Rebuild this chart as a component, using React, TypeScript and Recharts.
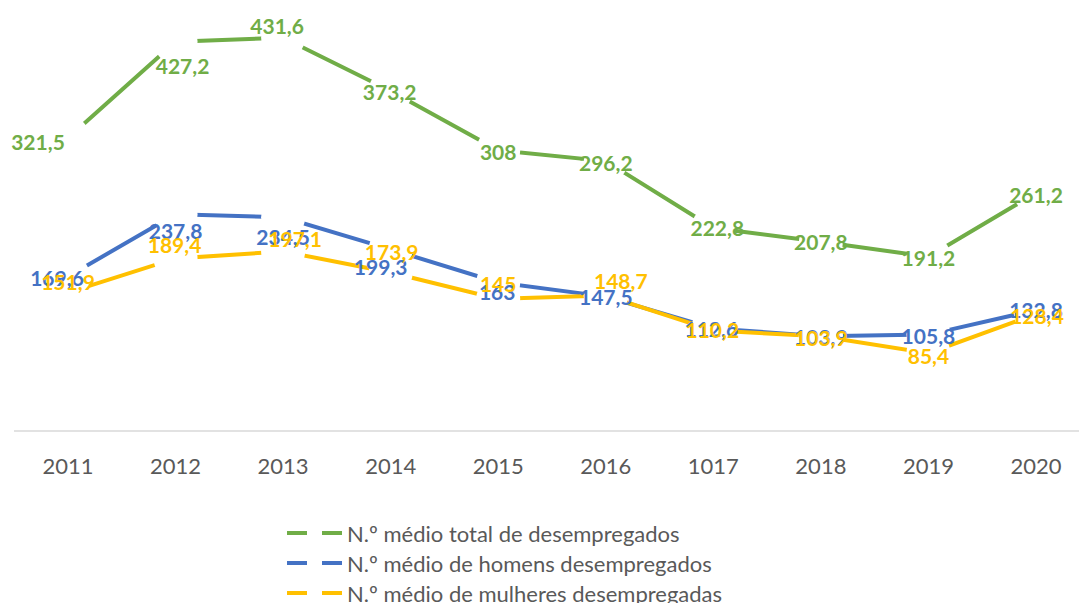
import { LineChart, Line, XAxis, YAxis, Legend, LabelList } from "recharts";

const years = ["2011", "2012", "2013", "2014", "2015", "2016", "1017", "2018", "2019", "2020"];
const totalUnemployed = [321.5, 427.2, 431.6, 373.2, 308, 296.2, 222.8, 207.8, 191.2, 261.2];
const menUnemployed = [169.6, 237.8, 234.5, 199.3, 163, 147.5, 112.6, 103.9, 105.8, 132.8];
const womenUnemployed = [151.9, 189.4, 197.1, 173.9, 145, 148.7, 110.2, 103.9, 85.4, 128.4];

const seriesNames = [
  "N.º médio total de desempregados",
  "N.º médio de homens desempregados",
  "N.º médio de mulheres desempregadas",
];

const GREEN = "#70AD47";
const BLUE = "#4472C4";
const YELLOW = "#FFC000";
const seriesColors = [GREEN, BLUE, YELLOW];
const FONT = "Lato, 'Open Sans', sans-serif";

// manual nudges of the data labels, like the hand-placed labels in the original
const totalShift = [[-30, 4], [7, 25], [-6, -11], [-1, 2], [0, 2], [0, 2], [4, 1], [0, 1], [0, 2], [0, 3]];
const menShift = [[-11, 2], [0, 17], [0, 20], [-10, 18], [-1, 10], [0, 1], [-2, 1], [0, 1], [0, 2], [0, 1]];
const womenShift = [[0, -10], [-1, -13], [12, -12], [1, -20], [0, -14], [15, -14], [-1, 0], [0, 2], [0, 3], [1, 3]];

const data = years.map((year, i) => ({
  year,
  total: totalUnemployed[i],
  men: menUnemployed[i],
  women: womenUnemployed[i],
}));

const fmt = (v: number) => String(v).replace(".", ",");

function labelFor(color: string, shifts: number[][]) {
  return (props: any) => {
    const { x, y, value, index } = props;
    if (x == null || y == null) return null;
    const [dx, dy] = shifts[index] || [0, 0];
    return (
      <text
        x={Number(x) + dx}
        y={Number(y) + dy + 7.5}
        textAnchor="middle"
        fill={color}
        fontFamily={FONT}
        fontWeight={700}
        fontSize={21}
      >
        {fmt(Number(value))}
      </text>
    );
  };
}

// legend rows in series order (the label-only helper lines stay out of it)
function LegendBox() {
  return (
    <div>
      {seriesNames.map((name, i) => (
        <div key={name} style={{ display: "flex", alignItems: "center", height: 30 }}>
          <svg width={60} height={10}>
            <line x1={0} x2={20} y1={5} y2={5} stroke={seriesColors[i]} strokeWidth={4} />
            <line x1={35} x2={55} y1={5} y2={5} stroke={seriesColors[i]} strokeWidth={4} />
          </svg>
          <span style={{ fontFamily: FONT, fontSize: 22, color: "#595959", whiteSpace: "nowrap" }}>{name}</span>
        </div>
      ))}
    </div>
  );
}

const whiteMarker = { r: 22, fill: "#ffffff", stroke: "none" };

export default function App() {
  return (
    <div style={{ position: "absolute", left: 0, top: 0, width: 1079, height: 603, overflow: "hidden", background: "#fff" }}>
      <LineChart width={1079} height={603} data={data} margin={{ top: 10, right: 0, bottom: 132, left: 14 }}>
        <XAxis
          dataKey="year"
          height={40}
          padding={{ left: 54, right: 43 }}
          axisLine={{ stroke: "#D9D9D9", strokeWidth: 1.5 }}
          tickLine={false}
          tickSize={0}
          tickMargin={27}
          tick={{ fill: "#595959", fontSize: 22, fontFamily: FONT }}
          interval={0}
        />
        <YAxis hide domain={[0, 462]} type="number" />
        <Legend
          layout="vertical"
          align="center"
          verticalAlign="middle"
          wrapperStyle={{ left: 287, top: 518, width: 700 }}
          content={<LegendBox />}
        />
        <Line dataKey="total" name={seriesNames[0]} stroke={GREEN} strokeWidth={4} dot={whiteMarker} activeDot={false} isAnimationActive={false} />
        <Line dataKey="men" name={seriesNames[1]} stroke={BLUE} strokeWidth={4} dot={whiteMarker} activeDot={false} isAnimationActive={false} />
        <Line dataKey="women" name={seriesNames[2]} stroke={YELLOW} strokeWidth={4} dot={whiteMarker} activeDot={false} isAnimationActive={false} />
        {/* label layer on top of every series */}
        <Line dataKey="total" name="total-labels" stroke="none" dot={false} activeDot={false} legendType="none" isAnimationActive={false}>
          <LabelList dataKey="total" content={labelFor(GREEN, totalShift)} />
        </Line>
        <Line dataKey="men" name="men-labels" stroke="none" dot={false} activeDot={false} legendType="none" isAnimationActive={false}>
          <LabelList dataKey="men" content={labelFor(BLUE, menShift)} />
        </Line>
        <Line dataKey="women" name="women-labels" stroke="none" dot={false} activeDot={false} legendType="none" isAnimationActive={false}>
          <LabelList dataKey="women" content={labelFor(YELLOW, womenShift)} />
        </Line>
      </LineChart>
    </div>
  );
}
